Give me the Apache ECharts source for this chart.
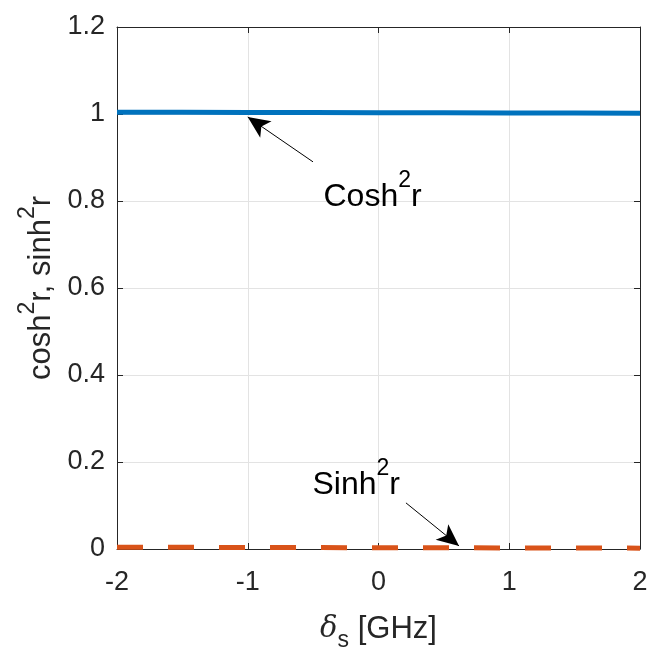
<!DOCTYPE html>
<html>
<head>
<meta charset="utf-8">
<script src="https://cdn.jsdelivr.net/npm/echarts@6/dist/echarts.min.js"></script>
<style>
  html, body { margin: 0; padding: 0; background: #fff; }
  #chart { width: 665px; height: 662px; }
</style>
</head>
<body>
<div id="chart"></div>
<script>
// detuning in GHz
var deltaS = [-2, -1.5, -1, -0.5, 0, 0.5, 1, 1.5, 2];
// cosh^2 r and sinh^2 r
var cosh2r = [1.004, 1.0038, 1.0035, 1.0033, 1.003, 1.0028, 1.0025, 1.0023, 1.002];
var sinh2r = [0.004, 0.0038, 0.0035, 0.0033, 0.003, 0.0028, 0.0025, 0.0023, 0.002];

var xTicks = [-2, -1, 0, 1, 2];
var yTicks = [0, 0.2, 0.4, 0.6, 0.8, 1, 1.2];

// annotation text anchors and arrows, in data units
var coshLabelAt = [-0.4245, 0.808];
var sinhLabelAt = [-0.509, 0.146];
var coshArrow = [[-0.501, 0.89], [-1.0, 0.993]];
var sinhArrow = [[0.21, 0.106], [0.616, 0.007]];

var FONT = 'Liberation Sans';
var INK = '#262626';

function pairs(xs, ys) {
  return xs.map(function (x, i) { return [x, ys[i]]; });
}

var supRich = {
  a: { fontFamily: FONT, fontSize: 32, lineHeight: 56, color: '#000' },
  s: { fontFamily: FONT, fontSize: 23, lineHeight: 23, verticalAlign: 'top', color: '#000' }
};

function note(at, text) {
  return {
    coord: at,
    symbol: 'circle',
    symbolSize: 1,
    itemStyle: { color: 'rgba(0,0,0,0)' },
    label: {
      show: true,
      position: 'right',
      distance: 0,
      formatter: text,
      rich: supRich
    }
  };
}

function arrow(seg) {
  return [{ coord: seg[0] }, { coord: seg[1], symbolSize: [15, 22] }];
}

var arrowLine = function (seg) {
  return {
    silent: true,
    symbol: ['none', 'arrow'],
    symbolSize: 18,
    label: { show: false },
    itemStyle: { color: '#000' },
    lineStyle: { color: '#000', width: 1, type: 'solid' },
    emphasis: { disabled: true },
    data: [arrow(seg)]
  };
};

var myChart = echarts.init(document.getElementById('chart'));

var option = {
  backgroundColor: '#fff',
  animation: false,
  grid: {
    left: 117, right: 25, top: 27, bottom: 113,
    containLabel: false,
    outerBoundsMode: 'none'
  },
  xAxis: [{
    type: 'value',
    min: -2, max: 2, interval: 1,
    name: '{d|δ}{sub|s}{a| [GHz]}',
    nameLocation: 'middle',
    nameGap: 57,
    nameTextStyle: {
      rich: {
        d: { fontFamily: 'DejaVu Serif', fontStyle: 'italic', fontSize: 29, lineHeight: 46, color: INK },
        sub: { fontFamily: FONT, fontSize: 23, lineHeight: 22, verticalAlign: 'bottom', color: INK },
        a: { fontFamily: FONT, fontSize: 31, lineHeight: 46, color: INK }
      }
    },
    axisLine: { show: true, onZero: false, lineStyle: { color: INK, width: 1 } },
    axisTick: { show: true, inside: true, length: 6, lineStyle: { color: INK } },
    axisLabel: {
      margin: 20, fontFamily: FONT, fontSize: 27, color: INK,
      formatter: function (v) { return xTicks.indexOf(v) >= 0 ? String(v) : ''; }
    },
    splitLine: { show: true, lineStyle: { color: '#e3e3e3', width: 1 } }
  }, {
    type: 'value',
    position: 'top',
    min: -2, max: 2, interval: 1,
    axisLine: { show: true, onZero: false, lineStyle: { color: INK, width: 1 } },
    axisTick: { show: true, inside: true, length: 6, lineStyle: { color: INK } },
    axisLabel: { show: false },
    splitLine: { show: false }
  }],
  yAxis: [{
    type: 'value',
    min: 0, max: 1.2, interval: 0.2,
    name: '{a|cosh}{s|2}{a|r, sinh}{s|2}{a|r}',
    nameLocation: 'middle',
    nameGap: 51,
    nameTextStyle: {
      rich: {
        a: { fontFamily: FONT, fontSize: 31, lineHeight: 50, color: INK },
        s: { fontFamily: FONT, fontSize: 23, lineHeight: 22, verticalAlign: 'top', color: INK }
      }
    },
    axisLine: { show: true, onZero: false, lineStyle: { color: INK, width: 1 } },
    axisTick: { show: true, inside: true, length: 6, lineStyle: { color: INK } },
    axisLabel: {
      margin: 12, fontFamily: FONT, fontSize: 27, color: INK,
      formatter: function (v) {
        var r = Math.round(v * 10) / 10;
        return yTicks.indexOf(r) >= 0 ? String(r) : '';
      }
    },
    splitLine: { show: true, lineStyle: { color: '#e3e3e3', width: 1 } }
  }, {
    type: 'value',
    position: 'right',
    min: 0, max: 1.2, interval: 0.2,
    axisLine: { show: true, onZero: false, lineStyle: { color: INK, width: 1 } },
    axisTick: { show: true, inside: true, length: 6, lineStyle: { color: INK } },
    axisLabel: { show: false },
    splitLine: { show: false }
  }],
  series: [{
    name: 'cosh2r',
    type: 'line',
    xAxisIndex: 0, yAxisIndex: 0,
    data: pairs(deltaS, cosh2r),
    showSymbol: false,
    lineStyle: { color: '#0072BD', width: 5 },
    z: 3,
    markPoint: {
      silent: true,
      data: [note(coshLabelAt, '{a|Cosh}{s|2}{a|r}')]
    },
    markLine: arrowLine(coshArrow)
  }, {
    name: 'sinh2r',
    type: 'line',
    xAxisIndex: 0, yAxisIndex: 0,
    data: pairs(deltaS, sinh2r),
    showSymbol: false,
    lineStyle: { color: '#D95319', width: 5, type: [26, 25] },
    z: 3,
    markPoint: {
      silent: true,
      data: [note(sinhLabelAt, '{a|Sinh}{s|2}{a|r}')]
    },
    markLine: arrowLine(sinhArrow)
  }]
};

myChart.setOption(option);
</script>
</body>
</html>
